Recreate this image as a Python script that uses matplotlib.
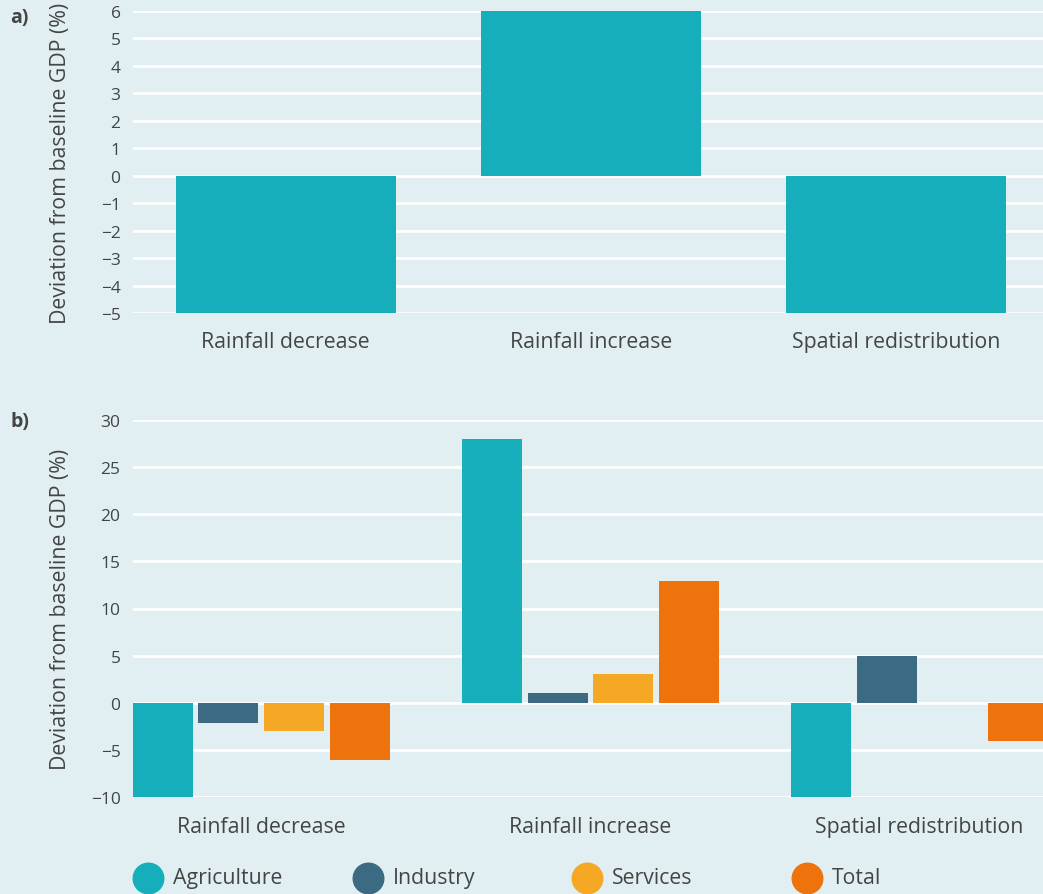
import numpy as np
import matplotlib.pyplot as plt
from matplotlib.lines import Line2D

plt.rcParams['font.family'] = ['Open Sans', 'DejaVu Sans']

# ---- data ----
scenarios = ["Rainfall decrease", "Rainfall increase", "Spatial redistribution"]
total_gdp = [-5, 6, -5]

sectors = ["Agriculture", "Industry", "Services", "Total"]
agriculture = [-10, 28, -10]
industry = [-2.1, 1.0, 5.0]
services = [-3.05, 3.0, 0.02]
total = [-6.1, 12.9, -4.1]

colors = ["#16aebb", "#3b6a82", "#f5a823", "#ee730c"]
bg = "#e1eff3"
txt = "#444444"

fig = plt.figure(figsize=(10.43, 8.95), dpi=100)
fig.patch.set_facecolor(bg)


def style_axes(ax):
    ax.set_facecolor(bg)
    for s in ax.spines.values():
        s.set_visible(False)
    ax.set_axisbelow(True)
    ax.yaxis.grid(True, color="white", linewidth=2)
    ax.tick_params(length=0, colors=txt, labelsize=12.5)
    ax.tick_params(axis="y", pad=9)
    ax.tick_params(axis="x", labelsize=15.3, pad=13)
    ax.set_ylabel("Deviation from baseline GDP (%)", fontsize=15.3, color=txt)
    ax.yaxis.set_label_coords(-0.068, 0.5)


# ---- panel a ----
ax1 = fig.add_axes([133 / 1043, 1 - 314 / 895, 1 - 133 / 1043, 302 / 895])
style_axes(ax1)
x = np.arange(len(scenarios))
ax1.bar(x, total_gdp, width=0.72, color=colors[0])
ax1.set_xlim(-0.5, 2.48)
ax1.set_ylim(-5, 6)
ax1.set_yticks(range(-5, 7))
ax1.set_xticks(x)
ax1.set_xticklabels(scenarios)

# ---- panel b ----
ax2 = fig.add_axes([133 / 1043, 1 - 798 / 895, 1 - 133 / 1043, 377 / 895])
style_axes(ax2)
ax2.tick_params(axis="x", pad=14)
series = [agriculture, industry, services, total]
w = 0.182
step = 0.2
for i, (vals, c) in enumerate(zip(series, colors)):
    ax2.bar(x + (i - 1.5) * step, vals, width=w, color=c, label=sectors[i])
ax2.set_xlim(-0.39, 2.375)
ax2.set_ylim(-10, 30)
ax2.set_yticks(range(-10, 31, 5))
ax2.set_xticks(x)
ax2.set_xticklabels(scenarios)

# panel letters
fig.text(10 / 1043, 1 - 18 / 895, "a)", fontsize=14, fontweight="bold", color=txt, va="center")
fig.text(10 / 1043, 1 - 422 / 895, "b)", fontsize=14, fontweight="bold", color=txt, va="center")

# legend, evenly spaced items
leg_y = 1 - 879 / 895
for i, (name, c) in enumerate(zip(sectors, colors)):
    mx = (148 + i * 219.5) / 1043
    fig.add_artist(Line2D([mx], [leg_y], marker="o", markersize=22, color=c,
                          linestyle="none", transform=fig.transFigure))
    fig.text(mx + 25 / 1043, leg_y, name, fontsize=15.3, color=txt, va="center")

fig.savefig("out.png", dpi=100, facecolor=bg)
